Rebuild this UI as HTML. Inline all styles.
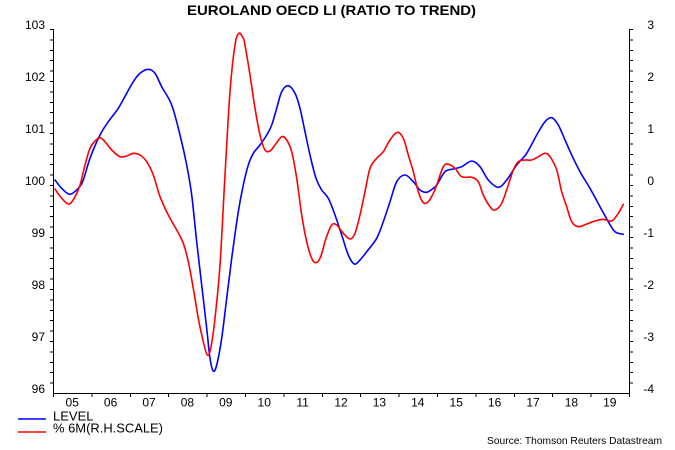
<!DOCTYPE html>
<html>
<head>
<meta charset="utf-8">
<style>
  html,body{margin:0;padding:0;background:#fff;}
  svg{display:block;}
  text{font-family:"Liberation Sans", Arial, sans-serif; fill:#000;}
</style>
</head>
<body>
<svg id="chart" width="675" height="450" viewBox="0 0 675 450" xmlns="http://www.w3.org/2000/svg">
  <rect width="675" height="450" fill="#fff"/>
  <text x="331.5" y="15" font-size="14" font-weight="bold" text-anchor="middle" textLength="289" lengthAdjust="spacingAndGlyphs">EUROLAND OECD LI (RATIO TO TREND)</text>

  <g stroke="#000" stroke-width="1" fill="none" shape-rendering="crispEdges">
    <line x1="53.5" y1="29" x2="53.5" y2="393.5"/>
    <line x1="629.5" y1="29" x2="629.5" y2="393.5"/>
    <line x1="53" y1="393.5" x2="630" y2="393.5"/>
  </g>

  <g font-size="12" text-anchor="end">
    <text x="45" y="29">103</text>
    <text x="45" y="81">102</text>
    <text x="45" y="133">101</text>
    <text x="45" y="185">100</text>
    <text x="45" y="237">99</text>
    <text x="45" y="289">98</text>
    <text x="45" y="341">97</text>
    <text x="45" y="393">96</text>
  </g>
  <g font-size="12" text-anchor="end">
    <text x="654" y="29">3</text>
    <text x="654" y="81">2</text>
    <text x="654" y="133">1</text>
    <text x="654" y="185">0</text>
    <text x="654" y="237">-1</text>
    <text x="654" y="289">-2</text>
    <text x="654" y="341">-3</text>
    <text x="654" y="393">-4</text>
  </g>
  <g font-size="12" text-anchor="middle">
    <text x="72.2" y="406.5">05</text>
    <text x="110.6" y="406.5">06</text>
    <text x="149" y="406.5">07</text>
    <text x="187.4" y="406.5">08</text>
    <text x="225.8" y="406.5">09</text>
    <text x="264.2" y="406.5">10</text>
    <text x="302.6" y="406.5">11</text>
    <text x="341" y="406.5">12</text>
    <text x="379.4" y="406.5">13</text>
    <text x="417.8" y="406.5">14</text>
    <text x="456.2" y="406.5">15</text>
    <text x="494.6" y="406.5">16</text>
    <text x="533" y="406.5">17</text>
    <text x="571.4" y="406.5">18</text>
    <text x="609.8" y="406.5">19</text>
  </g>

  <polyline class="ser" fill="none" stroke="#0000ff" stroke-width="1.6" stroke-linejoin="round" stroke-linecap="round"
    points="55,180 61.7,188.3 70,194.3 78.3,188.3 83.3,180 90,158.3 100,135 108.3,121.7 118.3,108.3 126.7,93.3 133.3,81.7 140,73.3 148.3,69.3 155,73.3 161.7,86.7 171.7,105 180,135 186.7,165 191.7,195 196.7,241.7 201.7,285 206.7,328.3 210,358.3 213.3,371 216.7,365 221.7,338.3 226.7,298.3 231.7,258.3 238.3,211.7 243.3,185 248.3,165 253.3,153.3 260,145 266.7,135 271.7,125 276.7,108.3 281.7,91.7 288.3,85.7 295,93.3 300,108.3 305,131.7 310,155 316,178.3 321.7,190 328.3,198.3 335,215 341.7,235 348.3,255 354.3,264 360,260 366.7,251.7 376.7,238.3 383.3,221.7 390,201.7 396.7,181.7 405,175 413.3,181.7 420,190 426.7,192.3 433.3,188.3 436.7,185 445,171.7 453.3,169 461.7,166.7 471.7,161 480,166.7 488.3,180 498.3,187.3 506.7,180 516.7,165 526.7,153.3 536.7,135 545,121.7 551.7,117.7 558.3,125 565,140 571.7,155 580,171.7 590,188.3 600,206.7 608.3,221.7 615,231.7 623.3,234.3"/>
  <polyline class="ser" fill="none" stroke="#ff0000" stroke-width="1.6" stroke-linejoin="round" stroke-linecap="round"
    points="55,189 61.7,198.3 69,204 75,196.7 80,185 85,165 90,148.3 95,141 100,137.7 105,141.7 111.7,150 120,156.7 126.7,156 133.3,153.3 140,155 146.7,161.7 153.3,175 160,196.7 168.3,215 176.7,230 183.3,243.3 188.3,261.7 193.3,288.3 198.3,318.3 203.3,341.7 207.3,355 210.7,348.3 215,318.3 220,265 225,175 230,91.7 235,45 239,33.3 243.3,38.3 245,45 250,75 255,108.3 260,135 265,150 270,151 275,145 281.7,136.7 286.7,140 291.7,151.7 296.7,178.3 301.7,215 306.7,241.7 311.7,258.3 316,262.7 320.7,256.7 326,238.3 331.7,225 336.7,225 343.3,233.3 350,239 355,233.3 360,215 365,191.7 370,168.3 376.7,158.3 383.3,151.7 390,140 397.3,132.3 403.3,138.3 408.3,155 413.3,171.7 418.3,191.7 423.3,202.7 428.3,201.7 433.3,193.3 436.7,185 443.3,166.7 448.3,164.3 455,168.3 461.7,176.7 471.7,177.3 478.3,181.7 483.3,195 490,206.7 495,210 501.7,203.3 508.3,185 513.3,170 518.3,161.7 525,160 531.7,160 538.3,156.7 545,153.3 550,156.7 556.7,170 561.7,191.7 566.7,206.7 571.7,221.7 578.3,226.7 586.7,224 595,221 603.3,219.3 611.7,221 618.3,213.3 623.3,204.3"/>

  <line x1="18" y1="419" x2="46" y2="419" stroke="#0000ff" stroke-width="1.5"/>
  <text x="53" y="420.5" font-size="13">LEVEL</text>
  <line x1="18" y1="432" x2="46" y2="432" stroke="#ff0000" stroke-width="1.5"/>
  <text x="53" y="432.5" font-size="13" textLength="110" lengthAdjust="spacingAndGlyphs">% 6M(R.H.SCALE)</text>

  <text x="487" y="444" font-size="10.5" textLength="175" lengthAdjust="spacingAndGlyphs">Source: Thomson Reuters Datastream</text>

  <g stroke="#000" stroke-width="1" shape-rendering="crispEdges">
    <path d="M50,29.5H53M50,39.9H53M50,50.3H53M50,60.7H53M50,71.1H53M50,81.5H53M50,91.9H53M50,102.3H53M50,112.7H53M50,123.1H53M50,133.5H53M50,143.9H53M50,154.3H53M50,164.7H53M50,175.1H53M50,185.5H53M50,195.9H53M50,206.3H53M50,216.7H53M50,227.1H53M50,237.5H53M50,247.9H53M50,258.3H53M50,268.7H53M50,279.1H53M50,289.5H53M50,299.9H53M50,310.3H53M50,320.7H53M50,331.1H53M50,341.5H53M50,351.9H53M50,362.3H53M50,372.7H53M50,383.1H53"/>
    <path d="M630,29.5H633M630,39.9H633M630,50.3H633M630,60.7H633M630,71.1H633M630,81.5H633M630,91.9H633M630,102.3H633M630,112.7H633M630,123.1H633M630,133.5H633M630,143.9H633M630,154.3H633M630,164.7H633M630,175.1H633M630,185.5H633M630,195.9H633M630,206.3H633M630,216.7H633M630,227.1H633M630,237.5H633M630,247.9H633M630,258.3H633M630,268.7H633M630,279.1H633M630,289.5H633M630,299.9H633M630,310.3H633M630,320.7H633M630,331.1H633M630,341.5H633M630,351.9H633M630,362.3H633M630,372.7H633M630,383.1H633"/>
    <path d="M53.5,393V397M91.9,393V397M130.3,393V397M168.7,393V397M207.1,393V397M245.5,393V397M283.9,393V397M322.3,393V397M360.7,393V397M399.1,393V397M437.5,393V397M475.9,393V397M514.3,393V397M552.7,393V397M591.1,393V397M629.5,393V397"/>
  </g>
</svg>
<script>
(function(){
  try{
    var NS="http://www.w3.org/2000/svg";
    var pls=document.querySelectorAll("polyline.ser");
    for(var k=0;k<pls.length;k++){
      var pl=pls[k];
      var raw=pl.getAttribute("points").trim().split(/\s+/);
      var p=raw.map(function(s){var a=s.split(",");return [parseFloat(a[0]),parseFloat(a[1])];});
      var d="M"+p[0][0]+","+p[0][1];
      for(var i=0;i<p.length-1;i++){
        var p0=p[i>0?i-1:i],p1=p[i],p2=p[i+1],p3=p[i+2<p.length?i+2:i+1];
        var c1x=p1[0]+(p2[0]-p0[0])/6,c1y=p1[1]+(p2[1]-p0[1])/6;
        var c2x=p2[0]-(p3[0]-p1[0])/6,c2y=p2[1]-(p3[1]-p1[1])/6;
        d+=" C"+c1x.toFixed(2)+","+c1y.toFixed(2)+" "+c2x.toFixed(2)+","+c2y.toFixed(2)+" "+p2[0]+","+p2[1];
      }
      var path=document.createElementNS(NS,"path");
      path.setAttribute("d",d);
      ["fill","stroke","stroke-width","stroke-linejoin","stroke-linecap"].forEach(function(a){path.setAttribute(a,pl.getAttribute(a));});
      pl.parentNode.replaceChild(path,pl);
    }
  }catch(e){}
})();
</script>
</body>
</html>
